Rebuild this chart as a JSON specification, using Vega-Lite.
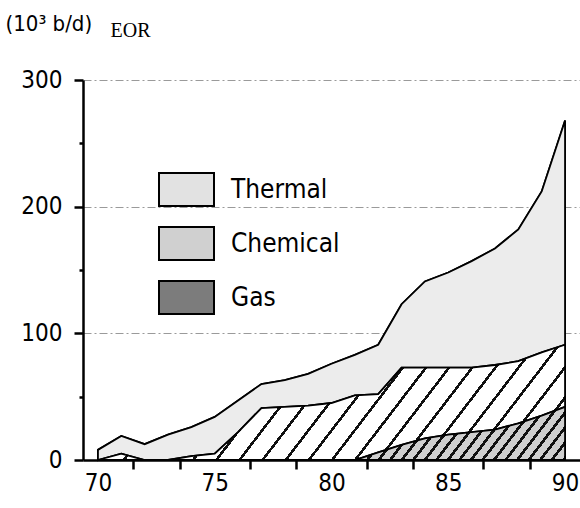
{
  "$schema": "https://vega.github.io/schema/vega-lite/v6.json",
  "width": 497,
  "height": 380,
  "autosize": {"type": "none"},
  "padding": {"left": 83, "top": 80, "right": 0, "bottom": 48},
  "background": "white",
  "config": {
    "view": {"stroke": null},
    "font": "DejaVu Sans Condensed, Roboto, sans-serif",
    "axis": {"labelOverlap": false}
  },
  "data": {
    "values": [
      {"year": 70, "total": 8, "chem": 0, "gas": 0},
      {"year": 71, "total": 19, "chem": 5, "gas": 0},
      {"year": 72, "total": 12.5, "chem": 0, "gas": 0},
      {"year": 73, "total": 20, "chem": 0, "gas": 0},
      {"year": 74, "total": 26, "chem": 3, "gas": 0},
      {"year": 75, "total": 34, "chem": 5, "gas": 0},
      {"year": 76, "total": 47, "chem": 22, "gas": 0},
      {"year": 77, "total": 60, "chem": 41, "gas": 0},
      {"year": 78, "total": 63, "chem": 42, "gas": 0},
      {"year": 79, "total": 68, "chem": 43, "gas": 0},
      {"year": 80, "total": 76, "chem": 45, "gas": 0},
      {"year": 81, "total": 83, "chem": 51, "gas": 0},
      {"year": 82, "total": 91, "chem": 52, "gas": 6},
      {"year": 83, "total": 123, "chem": 73, "gas": 12},
      {"year": 84, "total": 141, "chem": 73, "gas": 17},
      {"year": 85, "total": 148, "chem": 73, "gas": 20},
      {"year": 86, "total": 157, "chem": 73, "gas": 22},
      {"year": 87, "total": 167, "chem": 75, "gas": 24},
      {"year": 88, "total": 182, "chem": 78, "gas": 29},
      {"year": 89, "total": 212, "chem": 85, "gas": 35},
      {"year": 90, "total": 268, "chem": 91, "gas": 42}
    ]
  },
  "layer": [
    {
      "mark": {"type": "area", "stroke": "black", "strokeWidth": 1.8, "opacity": 1},
      "encoding": {
        "x": {
          "field": "year",
          "type": "quantitative",
          "scale": {"domain": [69.36, 90.64], "nice": false, "zero": false},
          "axis": {
            "title": "(10³ b/d)",
            "titleX": -78,
            "titleY": -430,
            "titleAlign": "left",
            "titleBaseline": "alphabetic",
            "titleFontSize": 22,
            "titleFontWeight": "normal",
            "titleColor": "black",
            "values": [70, 70.5, 71.5, 72.5, 73.5, 74.5, 75, 75.5, 76.5, 77.5, 78.5, 79.5, 80, 80.5, 81.5, 82.5, 83.5, 84.5, 85, 85.5, 86.5, 87.5, 88.5, 89.5, 90],
            "labelExpr": "datum.value % 5 == 0 ? datum.label : ''",
            "labelOverlap": false,
            "labelFlush": false,
            "labelBound": false,
            "labelFontSize": 24,
            "labelColor": "black",
            "labelPadding": {"condition": {"test": "datum.value % 5 != 0", "value": 150}, "value": 2},
            "tickSize": 9,
            "tickWidth": 2.5,
            "tickColor": "black",
            "tickOpacity": {"condition": {"test": "datum.value % 1 == 0", "value": 0}, "value": 1},
            "domainColor": "black",
            "domainWidth": 2.5,
            "grid": false
          }
        },
        "y": {
          "field": "total",
          "type": "quantitative",
          "scale": {"domain": [0, 300], "nice": false},
          "axis": {
            "title": "EOR",
            "titleAngle": 0,
            "titleX": 27,
            "titleY": -44,
            "titleAlign": "left",
            "titleBaseline": "alphabetic",
            "titleFont": "Liberation Serif, Times New Roman, serif",
            "titleFontSize": 20,
            "titleFontWeight": "normal",
            "titleColor": "black",
            "values": [0, 50, 100, 150, 200, 250, 300],
            "labelExpr": "datum.value % 100 == 0 ? datum.label : ''",
            "labelOverlap": false,
            "labelFlush": false,
            "labelFontSize": 24,
            "labelColor": "black",
            "labelPadding": 12,
            "labelBaseline": "middle",
            "tickSize": {"condition": {"test": "datum.value % 100 == 0", "value": 9}, "value": 4},
            "tickWidth": 2.5,
            "tickColor": "black",
            "domainColor": "black",
            "domainWidth": 2.5,
            "grid": true,
            "gridColor": "#9a9a9a",
            "gridWidth": 1,
            "gridDash": [8, 3, 2, 3],
            "gridOpacity": {"condition": {"test": "datum.value % 100 == 0 && datum.value > 0", "value": 1}, "value": 0}
          }
        },
        "y2": {"field": "chem"},
        "color": {
          "datum": "Thermal",
          "type": "nominal",
          "scale": {
            "domain": ["Thermal", "Chemical", "Gas"],
            "range": ["#e2e2e2", "#d0d0d0", "#7c7c7c"]
          },
          "legend": {
            "orient": "none",
            "legendX": 75,
            "legendY": 81,
            "title": null,
            "symbolType": "M-1,-0.6H1V0.6H-1Z",
            "symbolSize": 3025,
            "symbolStrokeColor": "black",
            "symbolStrokeWidth": 2,
            "symbolOpacity": 1,
            "labelFontSize": 26,
            "labelColor": "black",
            "labelOffset": 16,
            "rowPadding": 5
          }
        }
      }
    },
    {
      "mark": {"type": "area", "stroke": "black", "strokeWidth": 1.8, "opacity": 1},
      "encoding": {
        "x": {"field": "year", "type": "quantitative"},
        "y": {"field": "chem", "type": "quantitative"},
        "y2": {"field": "gas"},
        "color": {"datum": "Chemical", "type": "nominal"}
      }
    },
    {
      "mark": {"type": "area", "stroke": "black", "strokeWidth": 1.8, "opacity": 1},
      "encoding": {
        "x": {"field": "year", "type": "quantitative"},
        "y": {"field": "gas", "type": "quantitative"},
        "color": {"datum": "Gas", "type": "nominal"}
      }
    },
    {
      "mark": {"type": "area", "stroke": "black", "strokeWidth": 1.8, "fill": "#ececec"},
      "encoding": {
        "x": {"field": "year", "type": "quantitative"},
        "y": {"field": "total", "type": "quantitative"},
        "y2": {"field": "chem"}
      }
    },
    {
      "mark": {
        "type": "area", "stroke": "black", "strokeWidth": 1.8,
        "fill": {"gradient": "linear", "x1": 0, "y1": 0, "x2": 1.148, "y2": 0.217, "stops": [
          {"offset": 0, "color": "white"}, {"offset": 0.03583, "color": "white"}, {"offset": 0.03583, "color": "#111"}, {"offset": 0.04167, "color": "#111"},
          {"offset": 0.04167, "color": "white"}, {"offset": 0.0775, "color": "white"}, {"offset": 0.0775, "color": "#111"}, {"offset": 0.08333, "color": "#111"},
          {"offset": 0.08333, "color": "white"}, {"offset": 0.11917, "color": "white"}, {"offset": 0.11917, "color": "#111"}, {"offset": 0.125, "color": "#111"},
          {"offset": 0.125, "color": "white"}, {"offset": 0.16083, "color": "white"}, {"offset": 0.16083, "color": "#111"}, {"offset": 0.16667, "color": "#111"},
          {"offset": 0.16667, "color": "white"}, {"offset": 0.2025, "color": "white"}, {"offset": 0.2025, "color": "#111"}, {"offset": 0.20833, "color": "#111"},
          {"offset": 0.20833, "color": "white"}, {"offset": 0.24417, "color": "white"}, {"offset": 0.24417, "color": "#111"}, {"offset": 0.25, "color": "#111"},
          {"offset": 0.25, "color": "white"}, {"offset": 0.28583, "color": "white"}, {"offset": 0.28583, "color": "#111"}, {"offset": 0.29167, "color": "#111"},
          {"offset": 0.29167, "color": "white"}, {"offset": 0.3275, "color": "white"}, {"offset": 0.3275, "color": "#111"}, {"offset": 0.33333, "color": "#111"},
          {"offset": 0.33333, "color": "white"}, {"offset": 0.36917, "color": "white"}, {"offset": 0.36917, "color": "#111"}, {"offset": 0.375, "color": "#111"},
          {"offset": 0.375, "color": "white"}, {"offset": 0.41083, "color": "white"}, {"offset": 0.41083, "color": "#111"}, {"offset": 0.41667, "color": "#111"},
          {"offset": 0.41667, "color": "white"}, {"offset": 0.4525, "color": "white"}, {"offset": 0.4525, "color": "#111"}, {"offset": 0.45833, "color": "#111"},
          {"offset": 0.45833, "color": "white"}, {"offset": 0.49417, "color": "white"}, {"offset": 0.49417, "color": "#111"}, {"offset": 0.5, "color": "#111"},
          {"offset": 0.5, "color": "white"}, {"offset": 0.53583, "color": "white"}, {"offset": 0.53583, "color": "#111"}, {"offset": 0.54167, "color": "#111"},
          {"offset": 0.54167, "color": "white"}, {"offset": 0.5775, "color": "white"}, {"offset": 0.5775, "color": "#111"}, {"offset": 0.58333, "color": "#111"},
          {"offset": 0.58333, "color": "white"}, {"offset": 0.61917, "color": "white"}, {"offset": 0.61917, "color": "#111"}, {"offset": 0.625, "color": "#111"},
          {"offset": 0.625, "color": "white"}, {"offset": 0.66083, "color": "white"}, {"offset": 0.66083, "color": "#111"}, {"offset": 0.66667, "color": "#111"},
          {"offset": 0.66667, "color": "white"}, {"offset": 0.7025, "color": "white"}, {"offset": 0.7025, "color": "#111"}, {"offset": 0.70833, "color": "#111"},
          {"offset": 0.70833, "color": "white"}, {"offset": 0.74417, "color": "white"}, {"offset": 0.74417, "color": "#111"}, {"offset": 0.75, "color": "#111"},
          {"offset": 0.75, "color": "white"}, {"offset": 0.78583, "color": "white"}, {"offset": 0.78583, "color": "#111"}, {"offset": 0.79167, "color": "#111"},
          {"offset": 0.79167, "color": "white"}, {"offset": 0.8275, "color": "white"}, {"offset": 0.8275, "color": "#111"}, {"offset": 0.83333, "color": "#111"},
          {"offset": 0.83333, "color": "white"}, {"offset": 0.86917, "color": "white"}, {"offset": 0.86917, "color": "#111"}, {"offset": 0.875, "color": "#111"},
          {"offset": 0.875, "color": "white"}, {"offset": 0.91083, "color": "white"}, {"offset": 0.91083, "color": "#111"}, {"offset": 0.91667, "color": "#111"},
          {"offset": 0.91667, "color": "white"}, {"offset": 0.9525, "color": "white"}, {"offset": 0.9525, "color": "#111"}, {"offset": 0.95833, "color": "#111"},
          {"offset": 0.95833, "color": "white"}, {"offset": 0.99417, "color": "white"}, {"offset": 0.99417, "color": "#111"}, {"offset": 1, "color": "#111"}
        ]}
      },
      "encoding": {
        "x": {"field": "year", "type": "quantitative"},
        "y": {"field": "chem", "type": "quantitative"},
        "y2": {"field": "gas"}
      }
    },
    {
      "mark": {
        "type": "area", "stroke": "black", "strokeWidth": 1.8,
        "fill": {"gradient": "linear", "x1": 0, "y1": 0, "x2": 1.079, "y2": 0.0941, "stops": [
          {"offset": 0, "color": "#cfcfcf"}, {"offset": 0.01591, "color": "#cfcfcf"}, {"offset": 0.01591, "color": "#111"}, {"offset": 0.02273, "color": "#111"},
          {"offset": 0.02273, "color": "#cfcfcf"}, {"offset": 0.03864, "color": "#cfcfcf"}, {"offset": 0.03864, "color": "#111"}, {"offset": 0.04545, "color": "#111"},
          {"offset": 0.04545, "color": "#cfcfcf"}, {"offset": 0.06136, "color": "#cfcfcf"}, {"offset": 0.06136, "color": "#111"}, {"offset": 0.06818, "color": "#111"},
          {"offset": 0.06818, "color": "#cfcfcf"}, {"offset": 0.08409, "color": "#cfcfcf"}, {"offset": 0.08409, "color": "#111"}, {"offset": 0.09091, "color": "#111"},
          {"offset": 0.09091, "color": "#cfcfcf"}, {"offset": 0.10682, "color": "#cfcfcf"}, {"offset": 0.10682, "color": "#111"}, {"offset": 0.11364, "color": "#111"},
          {"offset": 0.11364, "color": "#cfcfcf"}, {"offset": 0.12955, "color": "#cfcfcf"}, {"offset": 0.12955, "color": "#111"}, {"offset": 0.13636, "color": "#111"},
          {"offset": 0.13636, "color": "#cfcfcf"}, {"offset": 0.15227, "color": "#cfcfcf"}, {"offset": 0.15227, "color": "#111"}, {"offset": 0.15909, "color": "#111"},
          {"offset": 0.15909, "color": "#cfcfcf"}, {"offset": 0.175, "color": "#cfcfcf"}, {"offset": 0.175, "color": "#111"}, {"offset": 0.18182, "color": "#111"},
          {"offset": 0.18182, "color": "#cfcfcf"}, {"offset": 0.19773, "color": "#cfcfcf"}, {"offset": 0.19773, "color": "#111"}, {"offset": 0.20455, "color": "#111"},
          {"offset": 0.20455, "color": "#cfcfcf"}, {"offset": 0.22045, "color": "#cfcfcf"}, {"offset": 0.22045, "color": "#111"}, {"offset": 0.22727, "color": "#111"},
          {"offset": 0.22727, "color": "#cfcfcf"}, {"offset": 0.24318, "color": "#cfcfcf"}, {"offset": 0.24318, "color": "#111"}, {"offset": 0.25, "color": "#111"},
          {"offset": 0.25, "color": "#cfcfcf"}, {"offset": 0.26591, "color": "#cfcfcf"}, {"offset": 0.26591, "color": "#111"}, {"offset": 0.27273, "color": "#111"},
          {"offset": 0.27273, "color": "#cfcfcf"}, {"offset": 0.28864, "color": "#cfcfcf"}, {"offset": 0.28864, "color": "#111"}, {"offset": 0.29545, "color": "#111"},
          {"offset": 0.29545, "color": "#cfcfcf"}, {"offset": 0.31136, "color": "#cfcfcf"}, {"offset": 0.31136, "color": "#111"}, {"offset": 0.31818, "color": "#111"},
          {"offset": 0.31818, "color": "#cfcfcf"}, {"offset": 0.33409, "color": "#cfcfcf"}, {"offset": 0.33409, "color": "#111"}, {"offset": 0.34091, "color": "#111"},
          {"offset": 0.34091, "color": "#cfcfcf"}, {"offset": 0.35682, "color": "#cfcfcf"}, {"offset": 0.35682, "color": "#111"}, {"offset": 0.36364, "color": "#111"},
          {"offset": 0.36364, "color": "#cfcfcf"}, {"offset": 0.37955, "color": "#cfcfcf"}, {"offset": 0.37955, "color": "#111"}, {"offset": 0.38636, "color": "#111"},
          {"offset": 0.38636, "color": "#cfcfcf"}, {"offset": 0.40227, "color": "#cfcfcf"}, {"offset": 0.40227, "color": "#111"}, {"offset": 0.40909, "color": "#111"},
          {"offset": 0.40909, "color": "#cfcfcf"}, {"offset": 0.425, "color": "#cfcfcf"}, {"offset": 0.425, "color": "#111"}, {"offset": 0.43182, "color": "#111"},
          {"offset": 0.43182, "color": "#cfcfcf"}, {"offset": 0.44773, "color": "#cfcfcf"}, {"offset": 0.44773, "color": "#111"}, {"offset": 0.45455, "color": "#111"},
          {"offset": 0.45455, "color": "#cfcfcf"}, {"offset": 0.47045, "color": "#cfcfcf"}, {"offset": 0.47045, "color": "#111"}, {"offset": 0.47727, "color": "#111"},
          {"offset": 0.47727, "color": "#cfcfcf"}, {"offset": 0.49318, "color": "#cfcfcf"}, {"offset": 0.49318, "color": "#111"}, {"offset": 0.5, "color": "#111"},
          {"offset": 0.5, "color": "#cfcfcf"}, {"offset": 0.51591, "color": "#cfcfcf"}, {"offset": 0.51591, "color": "#111"}, {"offset": 0.52273, "color": "#111"},
          {"offset": 0.52273, "color": "#cfcfcf"}, {"offset": 0.53864, "color": "#cfcfcf"}, {"offset": 0.53864, "color": "#111"}, {"offset": 0.54545, "color": "#111"},
          {"offset": 0.54545, "color": "#cfcfcf"}, {"offset": 0.56136, "color": "#cfcfcf"}, {"offset": 0.56136, "color": "#111"}, {"offset": 0.56818, "color": "#111"},
          {"offset": 0.56818, "color": "#cfcfcf"}, {"offset": 0.58409, "color": "#cfcfcf"}, {"offset": 0.58409, "color": "#111"}, {"offset": 0.59091, "color": "#111"},
          {"offset": 0.59091, "color": "#cfcfcf"}, {"offset": 0.60682, "color": "#cfcfcf"}, {"offset": 0.60682, "color": "#111"}, {"offset": 0.61364, "color": "#111"},
          {"offset": 0.61364, "color": "#cfcfcf"}, {"offset": 0.62955, "color": "#cfcfcf"}, {"offset": 0.62955, "color": "#111"}, {"offset": 0.63636, "color": "#111"},
          {"offset": 0.63636, "color": "#cfcfcf"}, {"offset": 0.65227, "color": "#cfcfcf"}, {"offset": 0.65227, "color": "#111"}, {"offset": 0.65909, "color": "#111"},
          {"offset": 0.65909, "color": "#cfcfcf"}, {"offset": 0.675, "color": "#cfcfcf"}, {"offset": 0.675, "color": "#111"}, {"offset": 0.68182, "color": "#111"},
          {"offset": 0.68182, "color": "#cfcfcf"}, {"offset": 0.69773, "color": "#cfcfcf"}, {"offset": 0.69773, "color": "#111"}, {"offset": 0.70455, "color": "#111"},
          {"offset": 0.70455, "color": "#cfcfcf"}, {"offset": 0.72045, "color": "#cfcfcf"}, {"offset": 0.72045, "color": "#111"}, {"offset": 0.72727, "color": "#111"},
          {"offset": 0.72727, "color": "#cfcfcf"}, {"offset": 0.74318, "color": "#cfcfcf"}, {"offset": 0.74318, "color": "#111"}, {"offset": 0.75, "color": "#111"},
          {"offset": 0.75, "color": "#cfcfcf"}, {"offset": 0.76591, "color": "#cfcfcf"}, {"offset": 0.76591, "color": "#111"}, {"offset": 0.77273, "color": "#111"},
          {"offset": 0.77273, "color": "#cfcfcf"}, {"offset": 0.78864, "color": "#cfcfcf"}, {"offset": 0.78864, "color": "#111"}, {"offset": 0.79545, "color": "#111"},
          {"offset": 0.79545, "color": "#cfcfcf"}, {"offset": 0.81136, "color": "#cfcfcf"}, {"offset": 0.81136, "color": "#111"}, {"offset": 0.81818, "color": "#111"},
          {"offset": 0.81818, "color": "#cfcfcf"}, {"offset": 0.83409, "color": "#cfcfcf"}, {"offset": 0.83409, "color": "#111"}, {"offset": 0.84091, "color": "#111"},
          {"offset": 0.84091, "color": "#cfcfcf"}, {"offset": 0.85682, "color": "#cfcfcf"}, {"offset": 0.85682, "color": "#111"}, {"offset": 0.86364, "color": "#111"},
          {"offset": 0.86364, "color": "#cfcfcf"}, {"offset": 0.87955, "color": "#cfcfcf"}, {"offset": 0.87955, "color": "#111"}, {"offset": 0.88636, "color": "#111"},
          {"offset": 0.88636, "color": "#cfcfcf"}, {"offset": 0.90227, "color": "#cfcfcf"}, {"offset": 0.90227, "color": "#111"}, {"offset": 0.90909, "color": "#111"},
          {"offset": 0.90909, "color": "#cfcfcf"}, {"offset": 0.925, "color": "#cfcfcf"}, {"offset": 0.925, "color": "#111"}, {"offset": 0.93182, "color": "#111"},
          {"offset": 0.93182, "color": "#cfcfcf"}, {"offset": 0.94773, "color": "#cfcfcf"}, {"offset": 0.94773, "color": "#111"}, {"offset": 0.95455, "color": "#111"},
          {"offset": 0.95455, "color": "#cfcfcf"}, {"offset": 0.97045, "color": "#cfcfcf"}, {"offset": 0.97045, "color": "#111"}, {"offset": 0.97727, "color": "#111"},
          {"offset": 0.97727, "color": "#cfcfcf"}, {"offset": 0.99318, "color": "#cfcfcf"}, {"offset": 0.99318, "color": "#111"}, {"offset": 1, "color": "#111"}
        ]}
      },
      "encoding": {
        "x": {"field": "year", "type": "quantitative"},
        "y": {"field": "gas", "type": "quantitative"}
      }
    }
  ]
}
